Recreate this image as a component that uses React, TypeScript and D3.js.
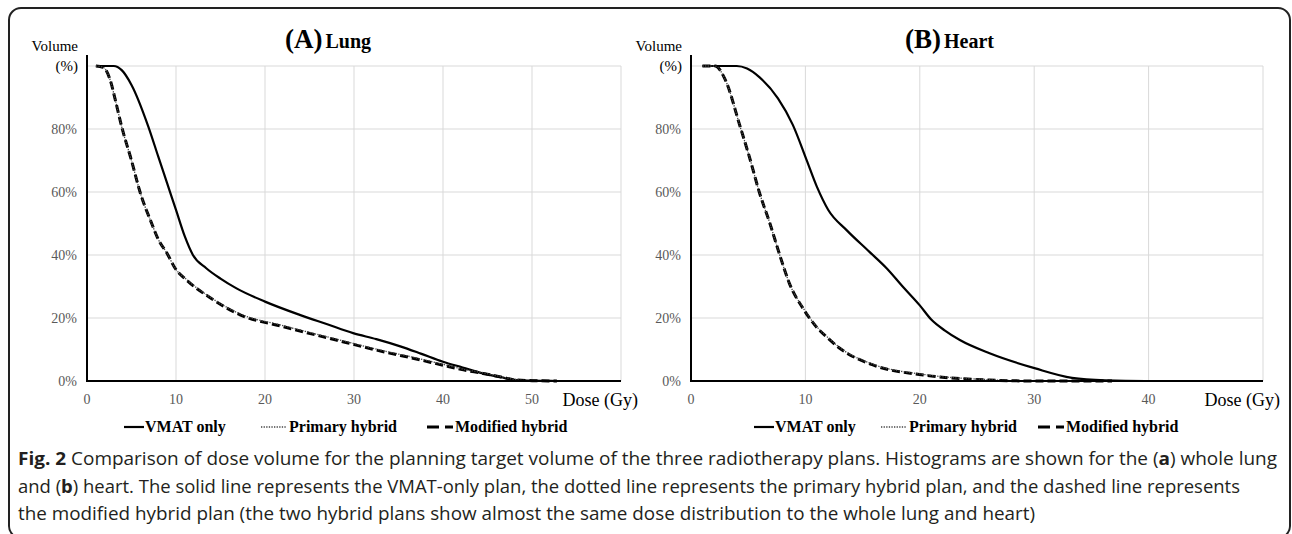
import React from 'react';
import * as d3 from 'd3';

// ---------- DATA ----------
const lungVmatDose = [1, 2, 3, 3.9, 5, 6.9, 8, 9, 10, 11, 11.9, 13.4, 15, 16.8, 20, 23.9, 27, 29.9, 32.5, 35.2, 37.5, 40, 42.2, 44.5, 46.5, 48.3, 50, 51.5, 52.8];
const lungVmatVol = [100, 100, 100, 98.7, 94, 80.7, 71.3, 62.8, 54.3, 45.8, 40, 35.8, 32.5, 29.4, 25.2, 21, 18, 15.2, 13.3, 11, 8.7, 6.1, 4.3, 2.4, 1.2, 0.3, 0.1, 0.05, 0];
const lungPrimaryDose = [1, 1.8, 2.6, 3.2, 3.9, 5, 6, 7.2, 8, 9, 9.9, 11.2, 13.8, 17.2, 22, 28, 33.3, 37, 40, 42, 44.5, 46.5, 48.3, 50, 52.8];
const lungPrimaryVol = [100, 99.6, 95.6, 89, 80.7, 70, 59.6, 50.5, 45, 40.5, 35.8, 32.2, 26.7, 21.3, 17.6, 13.3, 9.6, 7.3, 5.3, 3.9, 2.6, 1.4, 0.4, 0.1, 0];
const lungModifiedDose = [1, 1.8, 2.6, 3.2, 3.9, 5, 6, 7.2, 8, 9, 9.9, 11.2, 13.8, 17.2, 22, 28, 33.3, 37, 40, 42, 44.5, 46.5, 48.3, 50, 52.8];
const lungModifiedVol = [100, 99.6, 95.6, 89, 80.7, 70, 59.6, 50.5, 45, 40.5, 35.8, 32, 26.5, 21, 17.3, 13, 9.3, 7, 5, 3.7, 2.4, 1.3, 0.3, 0.1, 0];

const heartVmatDose = [1, 2, 3, 4, 4.9, 6, 7.6, 8.9, 10.1, 11, 12, 13.6, 15.6, 17.1, 18.5, 20, 21, 22.2, 23.5, 26.1, 30.1, 33.3, 36.2, 39.7, 45, 50];
const heartVmatVol = [100, 100, 100, 100, 99.2, 96.4, 89.7, 81.3, 70.2, 61.7, 54.3, 47.9, 41, 35.8, 30, 24, 19.5, 16, 13, 8.8, 4, 1, 0.2, 0, 0, 0];
const heartPrimaryDose = [1, 2.1, 3, 4.3, 5.1, 6, 6.9, 7.8, 8.6, 9.8, 11, 12, 13, 15.9, 20.3, 26.1, 30.2, 36.8];
const heartPrimaryVol = [100, 100, 95.6, 80.7, 71.2, 59.6, 50, 39.5, 31, 23.2, 17.2, 13.7, 10.6, 5.3, 2.1, 0.4, 0, 0];
const heartModifiedDose = [1, 2.1, 3, 4.3, 5.1, 6, 6.9, 7.8, 8.6, 9.8, 11, 12, 13, 15.9, 20.3, 26.1, 30.2, 36.8];
const heartModifiedVol = [100, 100, 95.6, 80.7, 71.2, 59.6, 50, 39.5, 31, 23, 17, 13.5, 10.4, 5.1, 1.9, 0.3, 0, 0];

const volumeTicks = [0, 20, 40, 60, 80];
const lungDoseTicks = [0, 10, 20, 30, 40, 50, 60];
const heartDoseTicks = [0, 10, 20, 30, 40, 50];
const seriesNames = ['VMAT only', 'Primary hybrid', 'Modified hybrid'];
const panelLetters = ['(A)', '(B)'];
const panelOrgans = ['Lung', 'Heart'];
const captionLines = [
  [{ t: 'Fig. 2', b: true }, { t: ' Comparison of dose volume for the planning target volume of the three radiotherapy plans. Histograms are shown for the (' }, { t: 'a', b: true }, { t: ') whole lung' }],
  [{ t: 'and (' }, { t: 'b', b: true }, { t: ') heart. The solid line represents the VMAT-only plan, the dotted line represents the primary hybrid plan, and the dashed line represents' }],
  [{ t: 'the modified hybrid plan (the two hybrid plans show almost the same dose distribution to the whole lung and heart)' }],
];

// ---------- STYLE ----------
const SERIF = '"Liberation Serif", "Times New Roman", serif';
const SANS = '"Liberation Sans Narrow", "Open Sans", "Noto Sans", sans-serif';
const seriesStyles = [
  { stroke: '#000', width: 2.2, dash: undefined as string | undefined },
  { stroke: '#444', width: 1.3, dash: '1.3,1.3' },
  { stroke: '#000', width: 3, dash: '8,4' },
];

type PanelProps = {
  x0: number; x1: number; xMax: number; doseTicks: number[];
  series: { dose: number[]; vol: number[] }[];
  titleX: number; letter: string; organ: string; legendX: number[];
};

const Y_TOP = 66;
const Y_BOT = 381;

function Panel(p: PanelProps) {
  const x = d3.scaleLinear().domain([0, p.xMax]).range([p.x0, p.x1]);
  const y = d3.scaleLinear().domain([0, 100]).range([Y_BOT, Y_TOP]);
  const line = d3.line<[number, number]>().x(d => x(d[0])).y(d => y(d[1])).curve(d3.curveMonotoneX);
  const order = [0, 2, 1];
  return (
    <g>
      {[...volumeTicks.slice(1), 100].map(v => (
        <line key={'h' + v} x1={p.x0} x2={p.x1} y1={y(v)} y2={y(v)} stroke="#d9d9d9" strokeWidth={1} />
      ))}
      {p.doseTicks.slice(1).map(d => (
        <line key={'v' + d} x1={x(d)} x2={x(d)} y1={Y_TOP} y2={Y_BOT} stroke="#d9d9d9" strokeWidth={1} />
      ))}
      {order.map(i => {
        const s = p.series[i];
        const st = seriesStyles[i];
        const pts = s.dose.map((d, k) => [d, s.vol[k]] as [number, number]);
        return <path key={i} d={line(pts) || ''} fill="none" stroke={st.stroke} strokeWidth={st.width} strokeDasharray={st.dash} />;
      })}
      <line x1={p.x0} x2={p.x0} y1={55} y2={Y_BOT + 1} stroke="#000" strokeWidth={2} />
      <line x1={p.x0 - 1} x2={p.x1} y1={Y_BOT} y2={Y_BOT} stroke="#000" strokeWidth={2} />
      {volumeTicks.map(v => (
        <text key={'yl' + v} x={p.x0 - 10} y={y(v) + 5} textAnchor="end" fontFamily={SERIF} fontSize={14} fill="#595959">{v + '%'}</text>
      ))}
      <text x={p.x0 - 9} y={51} textAnchor="end" fontFamily={SERIF} fontSize={15} fill="#000">Volume</text>
      <text x={p.x0 - 9} y={71} textAnchor="end" fontFamily={SERIF} fontSize={15} fill="#000">(%)</text>
      {p.doseTicks.slice(0, -1).map(d => (
        <text key={'xl' + d} x={x(d)} y={404} textAnchor="middle" fontFamily={SERIF} fontSize={14} fill="#595959">{d}</text>
      ))}
      <text x={p.x1 + 17} y={406} textAnchor="end" fontFamily={SERIF} fontSize={18} fill="#000">Dose (Gy)</text>
      <text x={p.titleX} y={48} fontFamily={SERIF} fontWeight="bold" fill="#000">
        <tspan fontSize={27}>{p.letter}</tspan>
        <tspan fontSize={20} dx={3}>{p.organ}</tspan>
      </text>
      {seriesNames.map((n, i) => {
        const lx = p.legendX[i];
        const st = seriesStyles[i];
        const dash = i === 2 ? '12,6' : st.dash;
        return (
          <g key={'lg' + i}>
            <line x1={lx} x2={lx + (i === 0 ? 20 : 26)} y1={427} y2={427} stroke={st.stroke} strokeWidth={st.width} strokeDasharray={dash} />
            <text x={lx + (i === 0 ? 21 : 28)} y={432} fontFamily={SERIF} fontWeight="bold" fontSize={16} fill="#000">{n}</text>
          </g>
        );
      })}
    </g>
  );
}

export default function App() {
  const lungSeries = [
    { dose: lungVmatDose, vol: lungVmatVol },
    { dose: lungPrimaryDose, vol: lungPrimaryVol },
    { dose: lungModifiedDose, vol: lungModifiedVol },
  ];
  const heartSeries = [
    { dose: heartVmatDose, vol: heartVmatVol },
    { dose: heartPrimaryDose, vol: heartPrimaryVol },
    { dose: heartModifiedDose, vol: heartModifiedVol },
  ];
  const captionWidths = [1259, 1222, 1017];
  return (
    <svg width={1292} height={534} style={{ position: 'absolute', left: 0, top: 0, background: '#fff' }}>
      <rect x={9} y={8} width={1281} height={530} rx={12} ry={12} fill="#fff" stroke="#222" strokeWidth={2} />
      <Panel x0={87} x1={621} xMax={60} doseTicks={lungDoseTicks} series={lungSeries}
        titleX={285} letter={panelLetters[0]} organ={panelOrgans[0]} legendX={[124, 261, 427]} />
      <Panel x0={691} x1={1263} xMax={50} doseTicks={heartDoseTicks} series={heartSeries}
        titleX={905} letter={panelLetters[1]} organ={panelOrgans[1]} legendX={[754, 881, 1038]} />
      {captionLines.map((ln, i) => (
        <text key={i} x={18} y={465 + i * 27.5} fontFamily={SANS} fontSize={18} fill="#231f20"
          textLength={captionWidths[i]} lengthAdjust="spacingAndGlyphs">
          {ln.map((s, k) => (
            <tspan key={k} fontWeight={s.b ? 'bold' : 'normal'}>{s.t}</tspan>
          ))}
        </text>
      ))}
    </svg>
  );
}
